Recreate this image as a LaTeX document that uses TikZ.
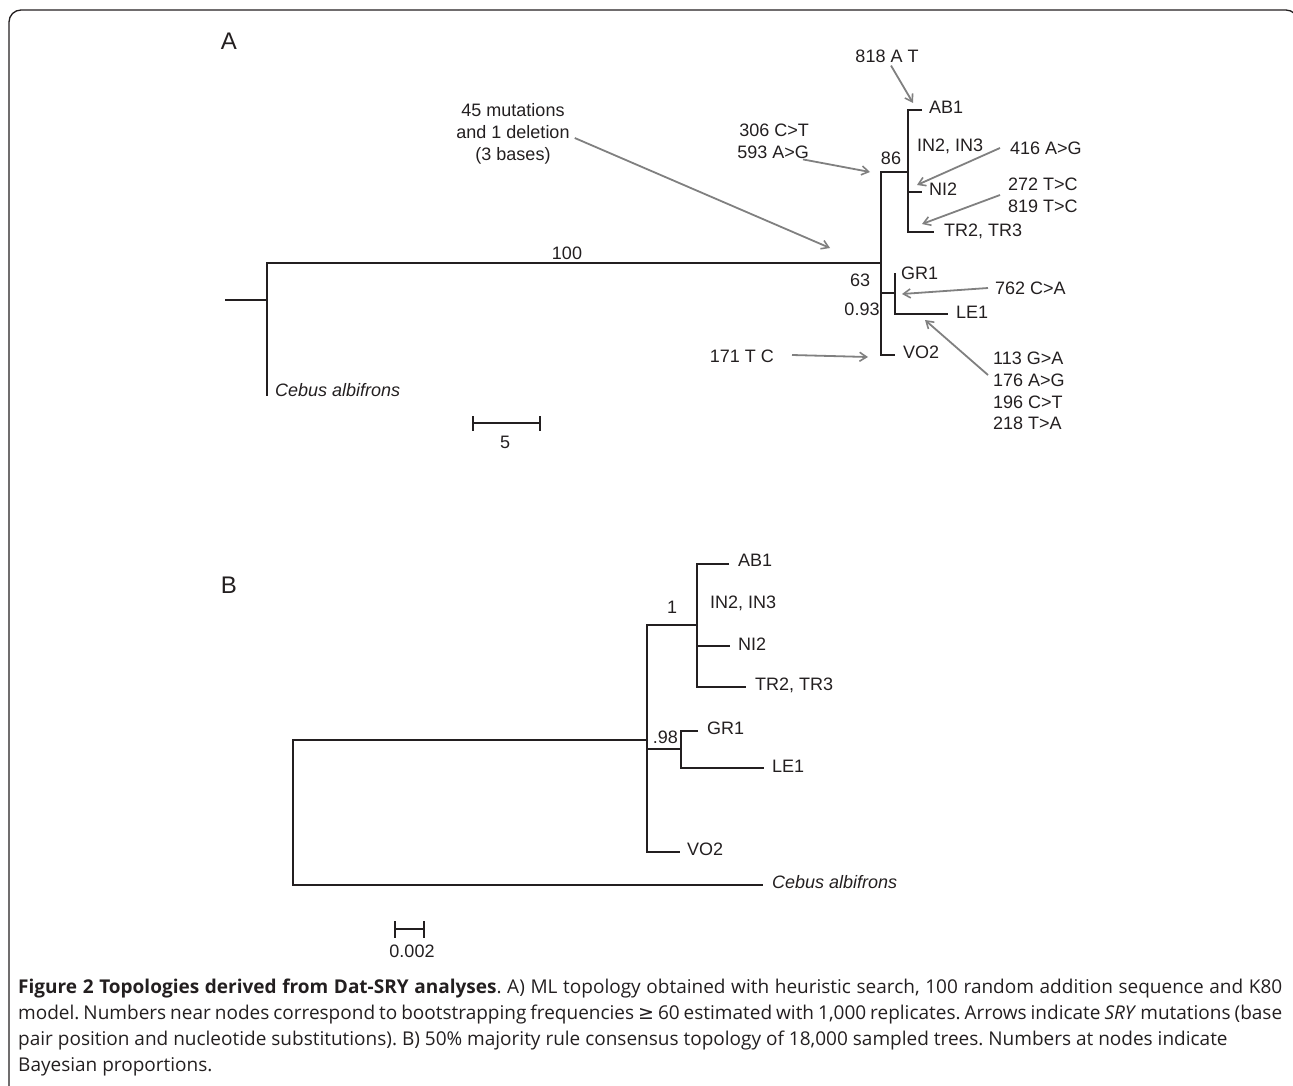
\documentclass[tikz,border=0pt]{standalone}
\usepackage{fontspec}
\setmainfont{Liberation Sans}
\newfontfamily\capfont{Open Sans}
\newfontfamily\symfont{DejaVu Sans}
\usetikzlibrary{arrows.meta}
\definecolor{ink}{HTML}{231F20}
\definecolor{arrowgrey}{HTML}{808080}
\tikzset{
	branch/.style={line width=2.3pt, color=ink},
	branchB/.style={line width=2pt, color=ink},
	mutarrow/.style={line width=1.8pt, color=arrowgrey, -{Straight Barb[length=7pt,width=9pt,line width=1.6pt]}},
	lbl/.style={inner sep=0pt, text=ink, font=\fontsize{18}{21.7}\selectfont},
	leaf/.style={lbl, anchor=west, text height=0.72em, text depth=0pt},
	panel/.style={inner sep=0pt, text=ink, font=\fontsize{24}{28}\selectfont},
	frameline/.style={line width=1.3pt, color=ink, rounded corners=12pt}
}

\begin{document}
\begin{tikzpicture}[x=1pt, y=-1pt]
			%%%%% START %%%%%
			\useasboundingbox (0,0) rectangle (1293,1086);
			\clip (0,0) rectangle (1293,1086);
			
			\draw[frameline] (9,1110) -- (9,10) -- (1298,10) -- (1298,1110);
			
			%%%%% TREE A %%%%%
			\node[panel] (panA) at (229,41) {A};
			
			\draw[branch] (225,300) -- (267,300);
			\draw[branch] (881,263) -- (267,263) -- (267,396);
			\draw[branch] (908,172) -- (881,172) -- (881,355) -- (895,355);
			\draw[branch] (881,293) -- (895,293);
			\draw[branch] (895,273) -- (895,314) -- (948,314);
			\draw[branch] (922,110) -- (908,110) -- (908,232) -- (934,232);
			\draw[branch] (908,192) -- (922,192);
			
			\node[lbl] (a100) at (567,253) {100};
			\node[lbl] (a86) at (891,158) {86};
			\node[lbl] (a63) at (860,280) {63};
			\node[lbl] (a093) at (862,309) {0.93};
			
			\node[leaf] (aAB1) at (929,110) {AB1};
			\node[leaf] (aIN2) at (917,148) {IN2, IN3};
			\node[leaf] (aNI2) at (929,192) {NI2};
			\node[leaf] (aTR2) at (944,233) {TR2, TR3};
			\node[leaf] (aGR1) at (901,276) {GR1};
			\node[leaf] (aLE1) at (956,315) {LE1};
			\node[leaf] (aVO2) at (903,355) {VO2};
			\node[leaf] (aCeb) at (275,393) {\itshape Cebus albifrons};
			
			% mutations
			\coordinate (t818) at (913,103);
			\coordinate (t306) at (870,172);
			\coordinate (t45) at (830,248);
			\coordinate (t416) at (917,185);
			\coordinate (t272) at (922,224);
			\coordinate (t762) at (902,294);
			\coordinate (t113) at (925,320);
			\coordinate (t171) at (868,357);
			
			\node[lbl] (m818) at (887,56) {818 A T};
			\node[lbl, align=right, anchor=east] (m306) at (809,141) {306 C>T\\593 A>G};
			\node[lbl, align=center] (m45) at (513,134) {45 mutations\\and 1 deletion\\(3 bases)};
			\node[lbl, anchor=west] (m416) at (1010,148) {416 A>G};
			\node[lbl, align=left, anchor=west] (m272) at (1008,195) {272 T>C\\819 T>C};
			\node[lbl, anchor=west] (m762) at (995,288) {762 C>A};
			\node[lbl, align=left, anchor=north west] (m113) at (993,352) {113 G>A\\176 A>G\\196 C>T\\218 T>A};
			\node[lbl, anchor=east] (m171) at (774,356) {171 T C};
			
			\draw[mutarrow] ([xshift=4pt,yshift=-3pt]m818.south) -- (t818);
			\draw[mutarrow] ([xshift=-6pt,yshift=-1pt]m306.south east) -- (t306);
			\draw[mutarrow] ([xshift=5pt,yshift=-4pt]m45.east) -- (t45);
			\draw[mutarrow] ([xshift=-10pt]m416.west) -- (t416);
			\draw[mutarrow] ([xshift=-8pt]m272.west) -- (t272);
			\draw[mutarrow] ([xshift=-7pt]m762.west) -- (t762);
			\draw[mutarrow] ([xshift=-5pt,yshift=-23pt]m113.north west) -- (t113);
			\draw[mutarrow] ([xshift=18pt,yshift=1pt]m171.east) -- (t171);
			
			% scale
			\draw[branch] (473,416) -- (473,431);
			\draw[branch] (473,423) -- (540,423);
			\draw[branch] (540,416) -- (540,431);
			\node[lbl] (sA) at (505,442) {5};
			
			%%%%% TREE B %%%%%
			\node[panel] (panB) at (229,585) {B};
			
			\draw[branchB] (648,740) -- (293,740) -- (293,885) -- (763,885);
			\draw[branchB] (697,625) -- (647,625) -- (647,852) -- (680,852);
			\draw[branchB] (647,749) -- (681,749);
			\draw[branchB] (698,731) -- (681,731) -- (681,768) -- (764,768);
			\draw[branchB] (729,564) -- (697,564) -- (697,687) -- (746,687);
			\draw[branchB] (697,646) -- (730,646);
			
			\node[lbl] (b1) at (672,607) {1};
			\node[lbl, anchor=east] (b098) at (678,737) {.98};
			
			\node[leaf] (bAB1) at (738,563) {AB1};
			\node[leaf] (bIN2) at (710,605) {IN2, IN3};
			\node[leaf] (bNI2) at (738,647) {NI2};
			\node[leaf] (bTR2) at (755,687) {TR2, TR3};
			\node[leaf] (bGR1) at (707,731) {GR1};
			\node[leaf] (bLE1) at (772,769) {LE1};
			\node[leaf] (bVO2) at (687,852) {VO2};
			\node[leaf] (bCeb) at (772,885) {\itshape Cebus albifrons};
			
			% scale
			\draw[branchB] (395,921) -- (395,938);
			\draw[branchB] (395,929) -- (424,929);
			\draw[branchB] (424,921) -- (424,938);
			\node[lbl] (sB) at (412,951) {0.002};
			
			%%%%% CAPTION %%%%%
			\node[inner sep=0pt, anchor=north west, text width=1264pt, align=justify, text=ink,
				font=\capfont\fontsize{19}{26}\selectfont\frenchspacing] (cap) at (18,979)
				{\textbf{Figure 2 Topologies derived from Dat-SRY analyses}. A) ML topology obtained with heuristic search, 100 random addition sequence and K80\linebreak
				model. Numbers near nodes correspond to bootstrapping frequencies {\symfont ≥} 60 estimated with 1,000 replicates. Arrows indicate \textit{SRY} mutations (base\linebreak
				pair position and nucleotide substitutions). B) 50\% majority rule consensus topology of 18,000 sampled trees. Numbers at nodes indicate\newline
				Bayesian proportions.};
			
			%%%%% END %%%%%
\end{tikzpicture}
\end{document}
